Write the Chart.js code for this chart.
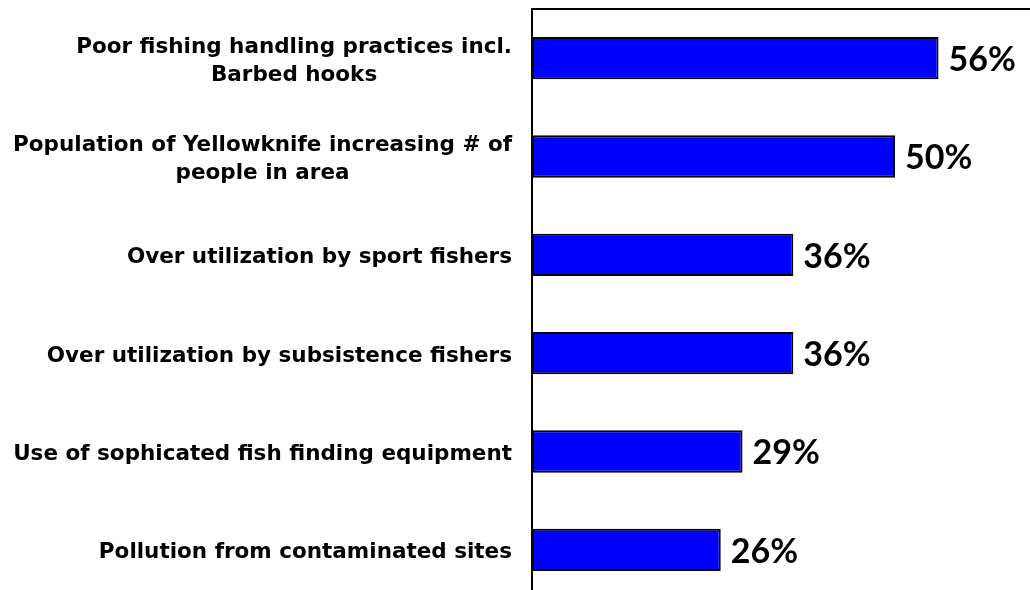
<!DOCTYPE html>
<html>
<head>
<meta charset="utf-8">
<style>
  html, body { margin: 0; padding: 0; background: #fff; overflow: hidden; }
  #wrap { width: 1030px; height: 600px; }
</style>
<script src="https://cdn.jsdelivr.net/npm/chart.js"></script>
</head>
<body>
<div id="wrap"><canvas id="myChart" width="1030" height="600"></canvas></div>
<script>
// categories (multi-line ones split the way the slide wraps them)
var categories = [
    ['Poor fishing handling practices incl.', 'Barbed hooks'],
    ['Population of Yellowknife increasing # of', 'people in area'],
    ['Over utilization by sport fishers'],
    ['Over utilization by subsistence fishers'],
    ['Use of sophicated fish finding equipment'],
    ['Pollution from contaminated sites']
];
var percents = [56, 50, 36, 36, 29, 26];

var labelFont = 'bold 21.5px "DejaVu Sans", Verdana, sans-serif';
var valueFont = 'bold 34px Lato, "DejaVu Sans", sans-serif';

// draws the category text (lines centred inside a right aligned block) and the % labels
var textPlugin = {
    id: 'textPlugin',
    afterDatasetsDraw: function(chart) {
        var ctx = chart.ctx;
        var yScale = chart.scales.y;
        var meta = chart.getDatasetMeta(0);
        ctx.save();
        ctx.fillStyle = '#000';
        ctx.textBaseline = 'middle';
        ctx.textAlign = 'center';
        ctx.font = labelFont;
        var rightEdge = yScale.right - 20;
        var lineH = 28;
        categories.forEach(function(lines, i) {
            var w = 0;
            lines.forEach(function(l) { w = Math.max(w, ctx.measureText(l).width); });
            var cx = rightEdge - w / 2;
            var cy = yScale.getPixelForValue(i);
            var top = cy - (lines.length - 1) * lineH / 2 + 3;
            lines.forEach(function(l, k) { ctx.fillText(l, cx, top + k * lineH); });
        });
        ctx.font = valueFont;
        ctx.textAlign = 'left';
        meta.data.forEach(function(bar, i) {
            ctx.fillText(percents[i] + '%', bar.x + 10, bar.y + 2);
        });
        ctx.restore();
    }
};

var ctx = document.getElementById('myChart').getContext('2d');
var chart = new Chart(ctx, {
    type: 'bar',
    data: {
        labels: categories,
        datasets: [{
            data: percents,
            backgroundColor: '#0000FF',
            borderColor: '#000000',
            borderWidth: 2,
            borderSkipped: false,
            barPercentage: 0.43,
            categoryPercentage: 1.0
        }]
    },
    options: {
        indexAxis: 'y',
        responsive: false,
        animation: false,
        layout: { padding: { top: 9, bottom: 1, left: 0, right: 0 } },
        plugins: { legend: { display: false }, tooltip: { enabled: false } },
        scales: {
            x: {
                position: 'top',
                min: 0,
                max: 68.6,
                grid: { display: false },
                ticks: { display: false },
                border: { display: true, color: '#000', width: 2 },
                afterFit: function(scale) { scale.height = 0; }
            },
            y: {
                grid: { display: false },
                ticks: { display: false },
                border: { display: true, color: '#000', width: 2 },
                afterFit: function(scale) { scale.width = 532; }
            }
        }
    },
    plugins: [textPlugin]
});
</script>
</body>
</html>
